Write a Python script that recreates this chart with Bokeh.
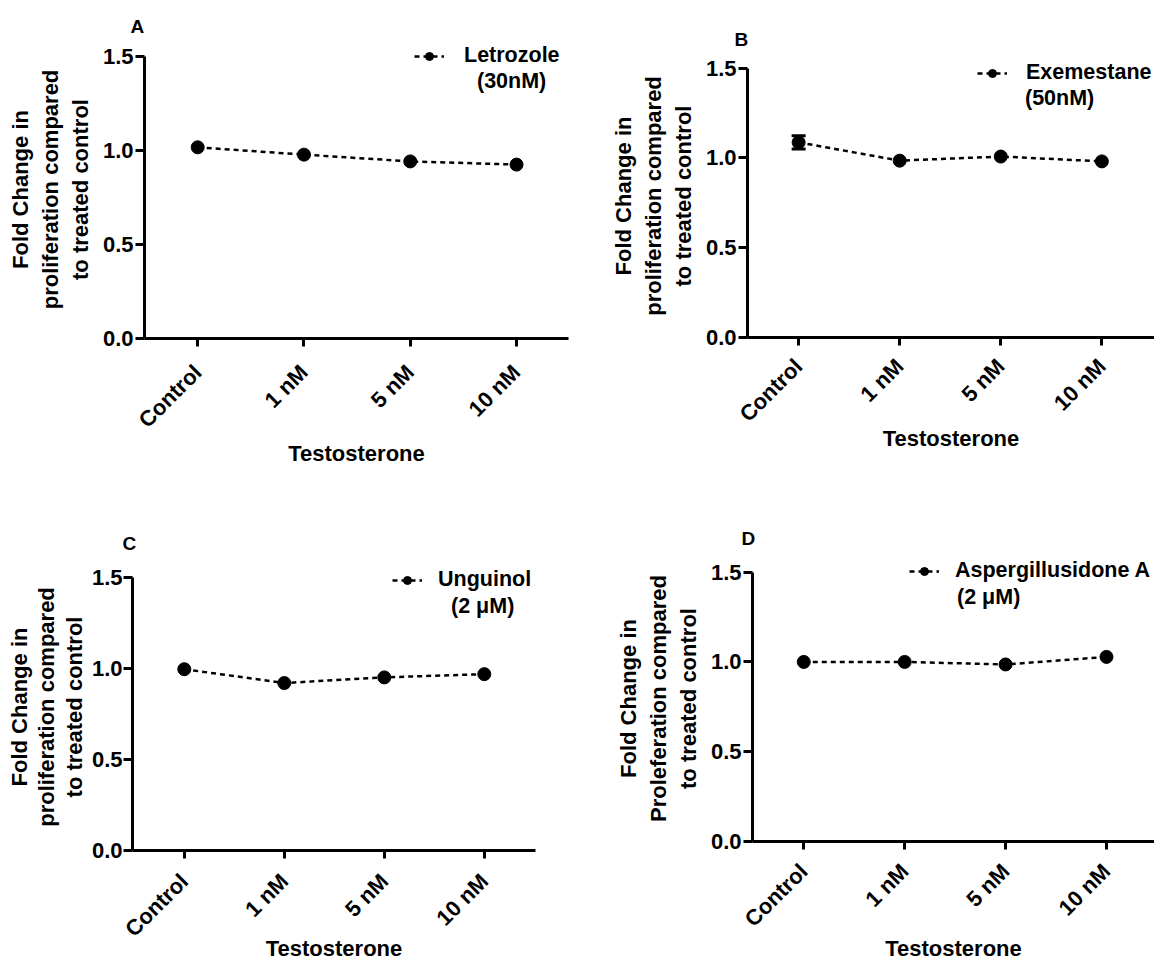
from bokeh.plotting import figure
from bokeh.models import (Range1d, FixedTicker, Legend, LegendItem, Whisker,
                          ColumnDataSource, TeeHead)
from bokeh.layouts import column, row
from bokeh.embed import file_html
from bokeh.resources import INLINE
import math

# ---------------- data ----------------
categories = ["Control", "1 nM", "5 nM", "10 nM"]
letrozole = [1.017, 0.978, 0.942, 0.925]
exemestane = [1.087, 0.985, 1.008, 0.981]
exemestane_err = [0.037, 0.0, 0.0, 0.0]
unguinol = [0.997, 0.921, 0.952, 0.970]
aspergillusidone = [1.0, 1.0, 0.986, 1.028]
zero_err = [0.0, 0.0, 0.0, 0.0]
y_ticks = [0.0, 0.5, 1.0, 1.5]
x_title = "Testosterone"
y_title_prolif = "Fold Change in\nproliferation compared\nto treated control"
y_title_prolef = "Fold Change in\nProleferation compared\nto treated control"

FONT = "Liberation Sans"


def make_panel(letter, values, errors, name1, name2, ylabel, w, h,
               left, right, top, bottom, x_start, x_end, y_end,
               t_offset, t_standoff, leg1, leg2, leg_standoff,
               lab_standoff, xlab_standoff,
               ytick_standoff=2, ylab_standoff=7, ylab_line_height=1.2):
    xs = list(range(len(categories)))
    p = figure(width=w, height=h, output_backend="svg", toolbar_location=None,
               x_range=Range1d(x_start, x_end), y_range=Range1d(0, y_end),
               min_border_left=left, min_border_right=right,
               min_border_top=top, min_border_bottom=bottom,
               title=letter)
    p.outline_line_color = None
    p.xgrid.visible = False
    p.ygrid.visible = False

    p.title.text_font = FONT
    p.title.text_font_style = "bold"
    p.title.text_font_size = "19px"
    p.title.text_color = "black"
    p.title.align = "left"
    p.title.offset = t_offset
    p.title.standoff = t_standoff

    for ax in (p.xaxis[0], p.yaxis[0]):
        ax.axis_line_width = 3
        ax.axis_line_color = "black"
        ax.major_tick_line_width = 3
        ax.major_tick_line_color = "black"
        ax.minor_tick_line_color = None
        ax.major_tick_in = 0
        ax.major_label_text_font = FONT
        ax.major_label_text_font_style = "bold"
        ax.major_label_text_font_size = "22px"
        ax.major_label_text_color = "black"
        ax.axis_label_text_font = FONT
        ax.axis_label_text_font_style = "bold"
        ax.axis_label_text_font_size = "22px"
        ax.axis_label_text_color = "black"

    p.xaxis.ticker = FixedTicker(ticks=xs)
    p.xaxis.major_label_overrides = {i: c for i, c in enumerate(categories)}
    p.xaxis.major_label_orientation = math.pi / 4
    p.xaxis.major_tick_out = 8
    p.xaxis.major_label_standoff = lab_standoff
    p.xaxis.axis_label = x_title
    p.xaxis.axis_label_standoff = xlab_standoff

    p.yaxis.ticker = FixedTicker(ticks=y_ticks)
    p.yaxis.bounds = (y_ticks[0], y_ticks[-1])
    p.yaxis.major_label_overrides = {t: f"{t:.1f}" for t in y_ticks}
    p.yaxis.major_tick_out = 9
    p.yaxis.major_label_standoff = ytick_standoff
    p.yaxis.axis_label = ylabel
    p.yaxis.axis_label_standoff = ylab_standoff
    p.yaxis.axis_label_text_line_height = ylab_line_height

    src = ColumnDataSource(dict(x=xs, y=values))
    ln = p.line("x", "y", source=src, line_color="black", line_width=2.5,
                line_dash="5 4")
    sc = p.scatter("x", "y", source=src, size=13, marker="circle",
                   fill_color="black", line_color="black")

    ex = [x for x, e in zip(xs, errors) if e > 0]
    if ex:
        lo = [v - e for v, e in zip(values, errors) if e > 0]
        hi = [v + e for v, e in zip(values, errors) if e > 0]
        esrc = ColumnDataSource(dict(x=ex, lo=lo, hi=hi))
        wk = Whisker(base="x", lower="lo", upper="hi", source=esrc,
                     line_width=3, line_color="black",
                     lower_head=TeeHead(size=14, line_width=3),
                     upper_head=TeeHead(size=14, line_width=3))
        p.add_layout(wk)

    ghost = p.scatter(x=[], y=[], size=1, fill_alpha=0, line_alpha=0)

    def style(lg):
        lg.border_line_color = None
        lg.background_fill_alpha = 0
        lg.label_text_font = FONT
        lg.label_text_font_style = "bold"
        lg.label_text_font_size = "21.5px"
        lg.label_text_color = "black"
        lg.padding = 0
        lg.margin = 0
        lg.spacing = 0

    lg1 = Legend(items=[LegendItem(label=name1, renderers=[ln, sc])], location=leg1)
    style(lg1)
    lg1.glyph_width = 30
    lg1.label_standoff = leg_standoff
    p.add_layout(lg1)

    lg2 = Legend(items=[LegendItem(label=name2, renderers=[ghost])], location=leg2)
    style(lg2)
    lg2.glyph_width = 0
    lg2.label_standoff = 0
    p.add_layout(lg2)
    return p


pA = make_panel("A", letrozole, zero_err, "Letrozole", "(30nM)", y_title_prolif,
                577, 490, 144, 9, 40, 152, -0.5006, 3.489, 1.5851,
                -14, 8, (270, 270), (333, 244), 20, 22, -3)
pB = make_panel("B", exemestane, exemestane_err, "Exemestane", "(50nM)", y_title_prolif,
                577, 490, 170, 0, 54, 153, -0.506, 3.521, 1.5763,
                -13, 10, (230, 252), (278, 226), 19, 17, -12)
pC = make_panel("C", unguinol, zero_err, "Unguinol", "(2 \u03bcM)", y_title_prolif,
                577, 474, 132, 42, 73, 113, -0.518, 3.512, 1.5784,
                -10, 20, (260, 258), (319, 231), 16, 19, -17,
                ytick_standoff=1, ylab_standoff=2, ylab_line_height=1.1)
pD = make_panel("D", aspergillusidone, zero_err, "Aspergillusidone A", "(2 \u03bcM)", y_title_prolef,
                577, 474, 175, 0, 65, 122, -0.508, 3.476, 1.5927,
                -11, 14, (157, 258), (205, 231), 16, 18, -7)

layout = column(row(column(pA), column(pB)), row(column(pC), column(pD)))
open("out.html", "w").write(file_html(layout, INLINE))
